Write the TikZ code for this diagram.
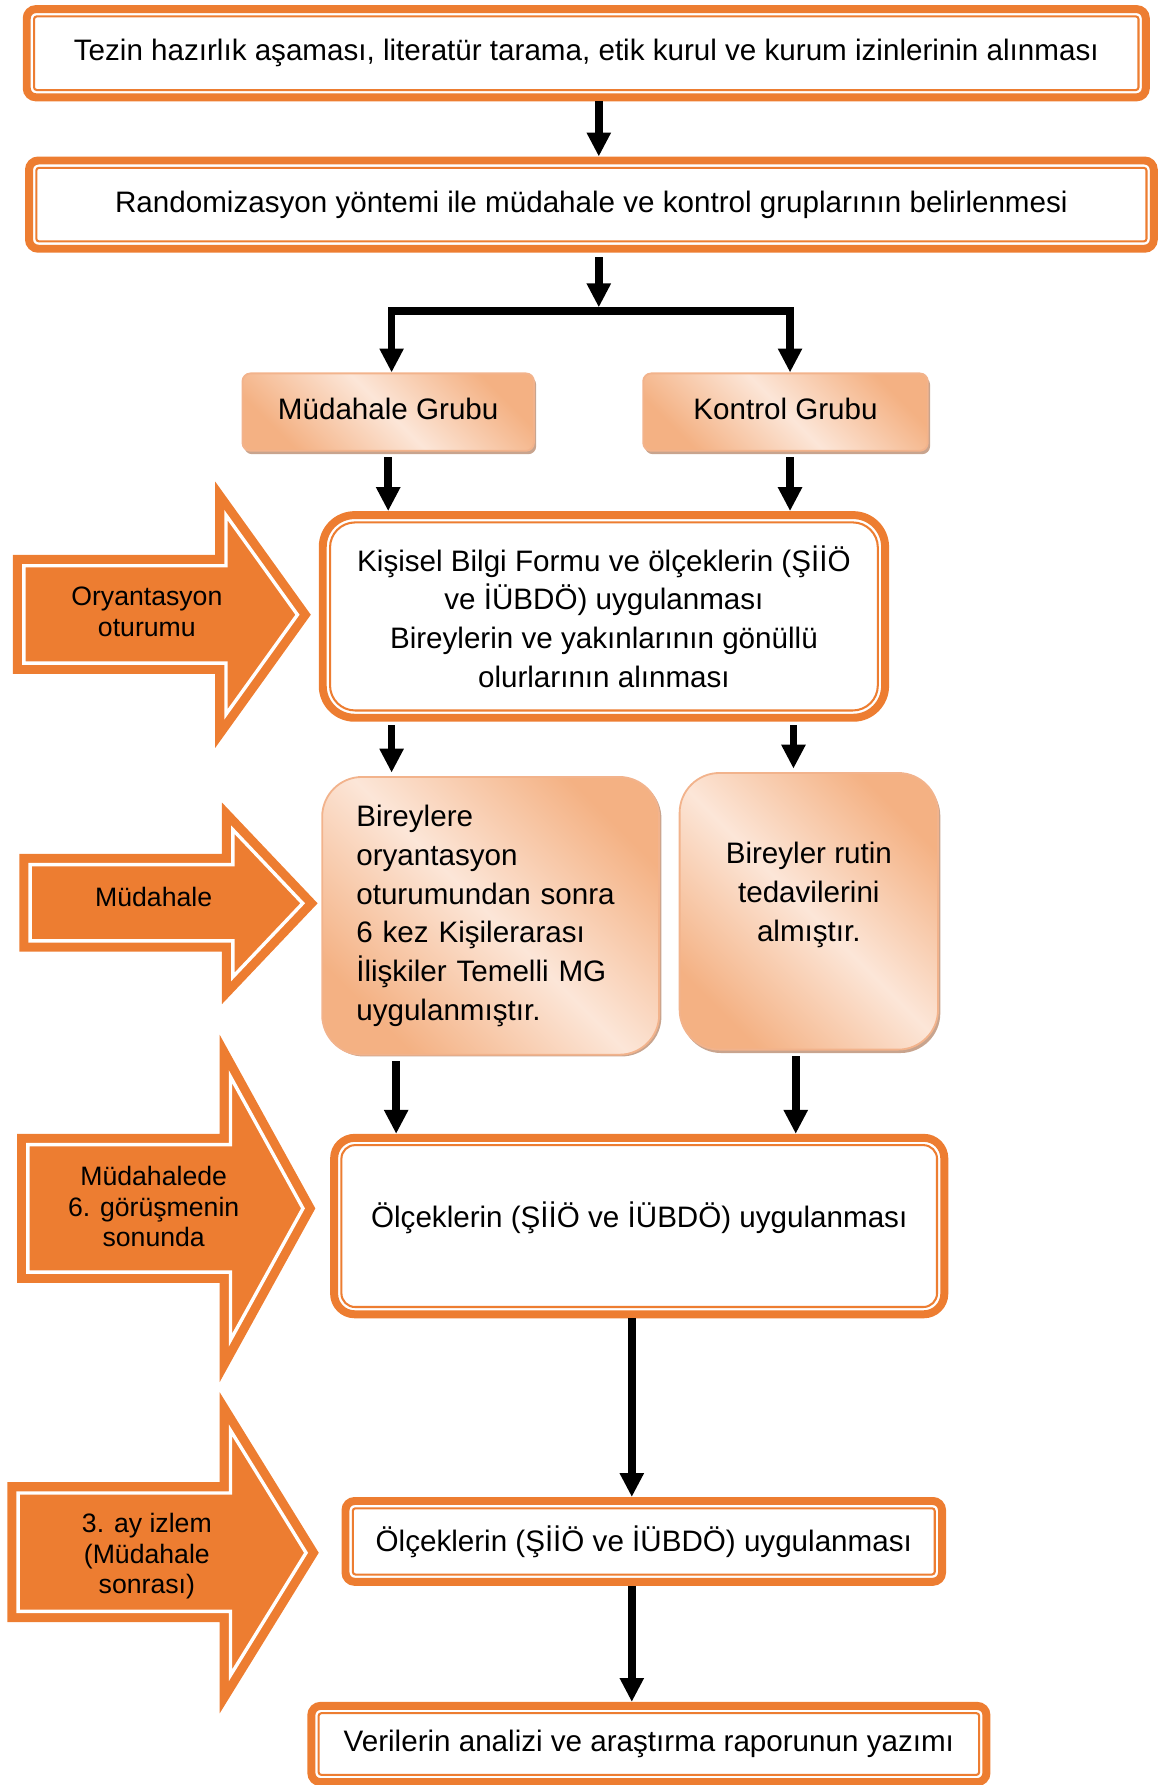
\documentclass[tikz,border=0pt]{standalone}
\usepackage{fontspec}
\setmainfont{Liberation Sans}
\usetikzlibrary{arrows.meta,calc}
\definecolor{orangeC}{HTML}{ED7D31}
\definecolor{peachD}{HTML}{F4B183}
\definecolor{peachL}{HTML}{FCE6D8}
\definecolor{peachB}{HTML}{F2B38C}
\definecolor{shadowC}{HTML}{C8A48E}
\newcommand{\mainfnt}{\fontsize{13}{17}\selectfont}
\newcommand{\arrfnt}{\fontsize{11.7}{13.5}\selectfont}
% big orange arrow: #1 xL, #2 yT, #3 yB, #4 xH, #5 hT, #6 hB, #7 xP
\newcommand{\bigarrowshape}[7]{%
  \pgfmathsetmacro{\bAty}{(#5+#6)/2}%
  \pgfmathsetmacro{\bAra}{(\bAty-#5)/(#7-#4)}%
  \pgfmathsetmacro{\bAsv}{sqrt(1+\bAra*\bAra)}%
  \pgfmathsetmacro{\bAd}{9.5}%
  \pgfmathsetmacro{\bAhT}{#5+\bAra*\bAd+\bAd*\bAsv}%
  \pgfmathsetmacro{\bAhB}{#6-\bAra*\bAd-\bAd*\bAsv}%
  \pgfmathsetmacro{\bAxP}{#7-\bAd*\bAsv/\bAra}%
  \fill[orangeC] (#1,#2) -- (#4,#2) -- (#4,#5) -- (#7,\bAty) -- (#4,#6) -- (#4,#3) -- (#1,#3) -- cycle;
  \draw[white, line width=1.5pt, line join=miter]
    (#1+\bAd,#2+\bAd) -- (#4+\bAd,#2+\bAd) -- (#4+\bAd,\bAhT) -- (\bAxP,\bAty)
    -- (#4+\bAd,\bAhB) -- (#4+\bAd,#3-\bAd) -- (#1+\bAd,#3-\bAd) -- cycle;
}
\begin{document}
\begin{tikzpicture}[x=0.5pt,y=-0.5pt,
  obox/.style={draw=orangeC, line width=3.5pt, fill=white, inner sep=0pt, align=center, font=\mainfnt},
  iline/.style={draw=orangeC, line width=0.9pt},
  gbox/.style={draw=peachB, line width=0.8pt, inner sep=0pt, font=\mainfnt,
    top color=peachD, bottom color=peachD, middle color=peachL, shading angle=-45},
  sbox/.style={fill=shadowC, draw=none},
  atext/.style={align=center, font=\arrfnt, inner sep=0pt},
  arr/.style={line width=3.3pt, line join=miter, -{Triangle[width=10pt,length=10.5pt]}}
]
\useasboundingbox (0,0) rectangle (1019,1568);

% ---- big orange arrows ----
\bigarrowshape{11.4}{487.5}{592}{189}{423}{657}{273}
\bigarrowshape{17}{750}{836}{195}{705}{882}{279}
\bigarrowshape{15}{996}{1127}{193}{909}{1214}{277}
\bigarrowshape{6.4}{1302}{1425}{193}{1223}{1505}{280}
\node[atext] (t1) at (129,537.5) {Oryantasyon\\oturumu};
\node[atext] (t2) at (135,788) {Müdahale};
\node[atext] (t3) at (135,1060) {Müdahalede\\6. görüşmenin\\sonunda};
\node[atext] (t4) at (129,1367) {3. ay izlem\\(Müdahale\\sonrası)};

% ---- double-bordered boxes ----
\node[obox, minimum width=491.5pt, minimum height=38.75pt, rounded corners=4pt] (b1) at (515,46.75)
  {Tezin hazırlık aşaması, literatür tarama, etik kurul ve kurum izinlerinin alınması};
\node[obox, minimum width=494pt, minimum height=38.75pt, rounded corners=4pt] (b2) at (519.5,179.75)
  {Randomizasyon yöntemi ile müdahale ve kontrol gruplarının belirlenmesi};
\node[obox, minimum width=247pt, minimum height=89pt, rounded corners=14pt] (kb) at (530.5,541.5)
  {Kişisel Bilgi Formu ve ölçeklerin (ŞİİÖ\\ve İÜBDÖ) uygulanması\\Bireylerin ve yakınlarının gönüllü\\olurlarının alınması};
\node[obox, minimum width=268pt, minimum height=77.5pt, rounded corners=9pt, text depth=10pt] (o1) at (561.5,1077)
  {Ölçeklerin (ŞİİÖ ve İÜBDÖ) uygulanması};
\node[obox, minimum width=262pt, minimum height=35.5pt, rounded corners=4pt] (o2) at (565.5,1354)
  {Ölçeklerin (ŞİİÖ ve İÜBDÖ) uygulanması};
\node[obox, minimum width=296.5pt, minimum height=33.5pt, rounded corners=4pt] (v) at (570,1532)
  {Verilerin analizi ve araştırma raporunun yazımı};
\foreach \n/\r in {b1/1.2pt, b2/1.2pt, kb/11pt, o1/6pt, o2/1.2pt, v/1.2pt}
  \draw[iline, rounded corners=\r] ($(\n.north west)+(9.9,9.9)$) rectangle ($(\n.south east)+(-9.9,-9.9)$);

% ---- gradient boxes ----
\fill[sbox, rounded corners=3.5pt] (214.5,331) rectangle (471,399);
\fill[sbox, rounded corners=3.5pt] (566.5,331) rectangle (817,399);
\fill[sbox, rounded corners=17.5pt] (284.5,684) rectangle (581,928);
\fill[sbox, rounded corners=17.5pt] (598.5,682) rectangle (826,925);
\node[gbox, minimum width=128pt, minimum height=34pt, rounded corners=3.5pt, text depth=3pt] (mg) at (341,362) {Müdahale Grubu};
\node[gbox, minimum width=125pt, minimum height=34pt, rounded corners=3.5pt, text depth=3pt] (kg) at (690,362) {Kontrol Grubu};
\node[gbox, minimum width=148pt, minimum height=122pt, rounded corners=17.5pt, text width=118pt, align=left] (ba) at (431,804.5)
  {Bireylere\\oryantasyon\\oturumundan sonra\\6 kez Kişilerarası\\İlişkiler Temelli MG\\uygulanmıştır.};
\node[gbox, minimum width=113.5pt, minimum height=121.5pt, rounded corners=17.5pt, align=center] (bb) at (710.5,800.5)
  {Bireyler rutin\\tedavilerini\\almıştır.\\\mbox{}};

% ---- connector columns ----
\coordinate (c1) at (526,0);
\coordinate (cA) at (344,0);
\coordinate (cB) at (694,0);
\coordinate (cB2) at (697,0);
\coordinate (cC) at (348,0);
\coordinate (cD) at (699,0);
\coordinate (cM) at (555,0);
\coordinate (j) at (526,273);
\coordinate (jt) at (526,270);

% ---- connectors ----
\draw[arr] (b1.south -| c1) -- (b2.north -| c1);
\draw[arr, shorten <=2pt] (b2.south -| c1) -- (jt);
\draw[arr] (j) -| (mg.north -| cA);
\draw[arr] (j) -| (kg.north -| cB);
\draw[arr, shorten <=2.5pt] (mg.south) -- (mg.south |- kb.north);
\draw[arr, shorten <=2.5pt] (kg.south -| cB) -- (kb.north -| cB);
\draw[arr, shorten <=1.5pt, shorten >=1.5pt] (kb.south -| cA) -- (ba.north -| cA);
\draw[arr, shorten <=1.5pt, shorten >=1.5pt] (kb.south -| cB2) -- (bb.north -| cB2);
\draw[arr, shorten <=2.5pt] (ba.south -| cC) -- (o1.north -| cC);
\draw[arr, shorten <=2.5pt] (bb.south -| cD) -- (o1.north -| cD);
\draw[arr] (o1.south -| cM) -- (o2.north -| cM);
\draw[arr] (o2.south -| cM) -- (v.north -| cM);
\end{tikzpicture}
\end{document}
